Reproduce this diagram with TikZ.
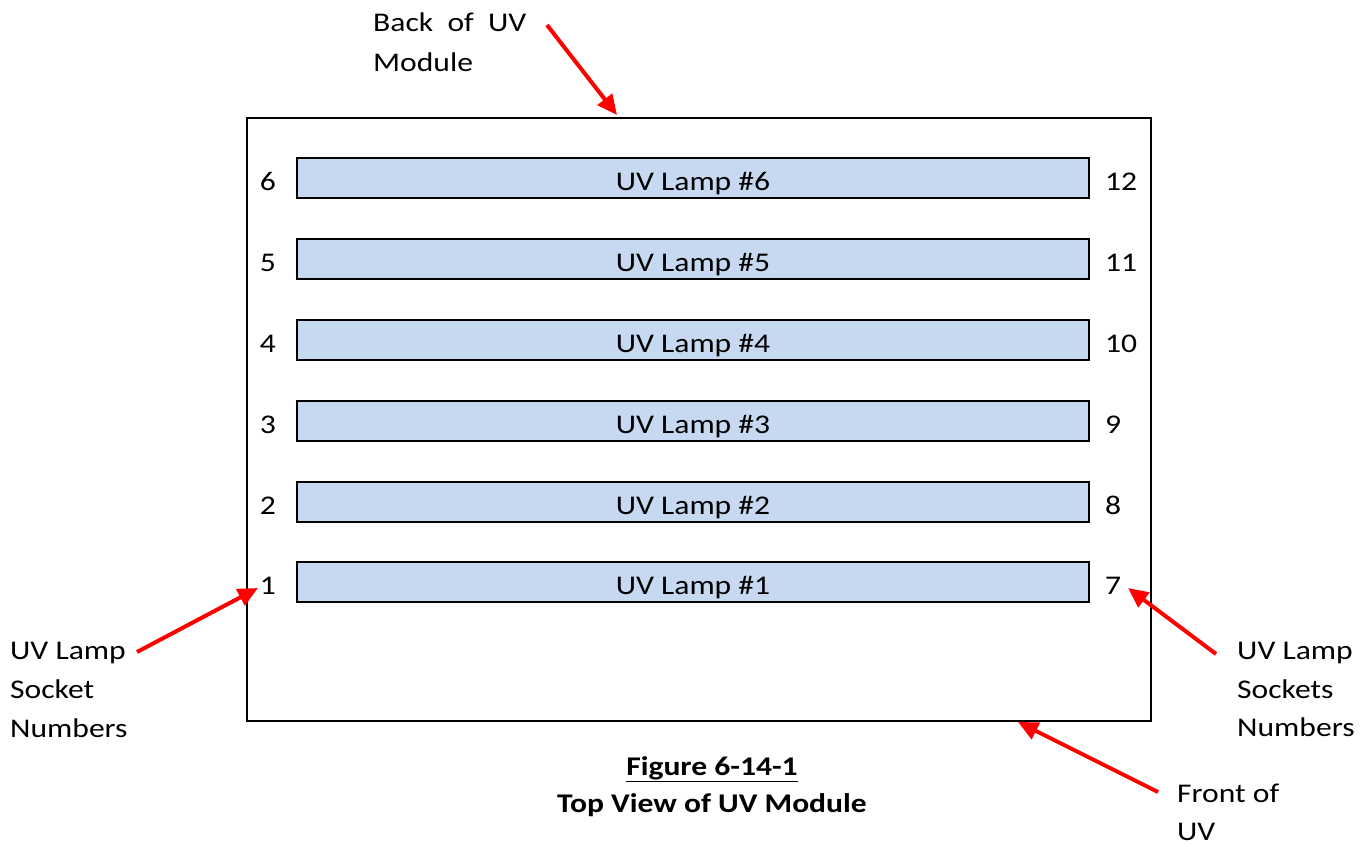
\documentclass[tikz,border=0pt]{standalone}
\usepackage{fontspec}
\setmainfont[FakeStretch=1.17]{Carlito}
\usetikzlibrary{arrows.meta}
\definecolor{lampblue}{HTML}{C6D9F1}
\definecolor{arrred}{HTML}{FF0000}
\begin{document}
\begin{tikzpicture}[x=1pt,y=-1pt,
  txt/.style={inner sep=0pt,font=\fontsize{27}{40}\selectfont},
  lamp/.style={draw=black,line width=1.6pt,fill=lampblue,minimum width=792pt,minimum height=40pt,inner sep=0pt,text height=25pt,text depth=0pt,font=\fontsize{27}{40}\selectfont},
  redarrow/.style={draw=arrred,line width=4pt,-{Triangle[length=20pt,width=18pt]}},
  module/.style={draw=black,line width=1.6pt}]
\useasboundingbox[fill=white] (0,0) rectangle (1372,846);
\draw[module] (247,118) rectangle (1151,721);
\foreach \i/\y/\r in {6/178/12,5/259/11,4/340/10,3/421/9,2/502/8,1/582/7}{
  \node[lamp] (lamp\i) at (693,\y) {UV Lamp \#\i};
  \node[txt,anchor=base] (sl\i) at (268,\y+12) {\i};
  \node[txt,anchor=base west] (sr\i) at (1105,\y+12) {\r};
}
\node[txt,anchor=base west] (back1) at (373,31) {Back\ \ of\ \ UV};
\node[txt,anchor=base west] (back2) at (373,71) {Module};
\node[txt,anchor=base west] (left1) at (10,659) {UV Lamp};
\node[txt,anchor=base west] (left2) at (10,698) {Socket};
\node[txt,anchor=base west] (left3) at (10,737) {Numbers};
\node[txt,anchor=base west] (right1) at (1237,659) {UV Lamp};
\node[txt,anchor=base west] (right2) at (1237,698) {Sockets};
\node[txt,anchor=base west] (right3) at (1237,736) {Numbers};
\node[txt,anchor=base west] (front1) at (1177,802) {Front of};
\node[txt,anchor=base west] (front2) at (1177,840) {UV};
\node[txt,anchor=base,font=\fontsize{27}{40}\selectfont\bfseries] (cap1) at (712,775) {\underline{Figure 6-14-1}};
\node[txt,anchor=base,font=\fontsize{27}{40}\selectfont\bfseries] (cap2) at (712,812) {Top View of UV Module};
\coordinate (backtail) at (547,25);
\coordinate (backtip) at (617,115);
\coordinate (lefttail) at (137,652);
\coordinate (lefttip) at (258,588);
\coordinate (righttail) at (1216,654);
\coordinate (righttip) at (1128,588);
\coordinate (fronttail) at (1158,792);
\coordinate (fronttip) at (1018,722);
\draw[redarrow] (backtail) -- (backtip);
\draw[redarrow] (lefttail) -- (lefttip);
\draw[redarrow] (righttail) -- (righttip);
\draw[redarrow] (fronttail) -- (fronttip);
\end{tikzpicture}
\end{document}
